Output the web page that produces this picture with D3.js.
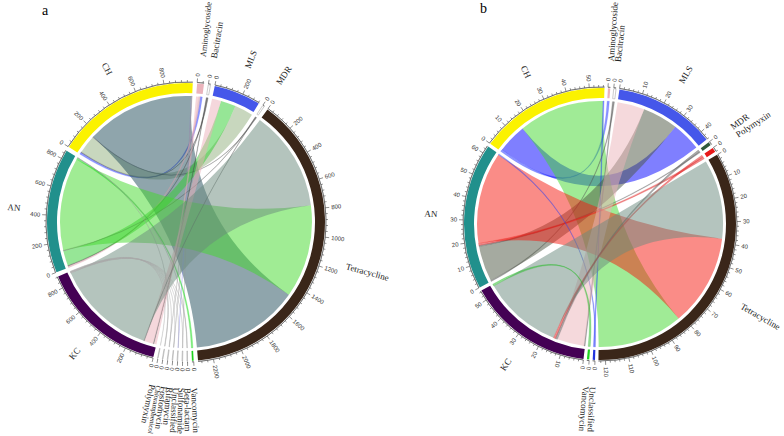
<!DOCTYPE html>
<html><head><meta charset="utf-8">
<script src="https://cdn.jsdelivr.net/npm/d3@7/dist/d3.min.js"></script>
<style>body{margin:0;background:#fff}svg{display:block}</style>
</head><body>
<svg id="chart" width="784" height="436"></svg>
<script>
// ---------- Panel a data ----------
const sectorsA = ["CH","Aminoglycoside","Bacitracin","MLS","MDR","Tetracycline","Vancomycin","Beta-lactam","Sulfonamide","Unclassified","Rifamycin","Fosfomycin","Chloramphenicol","Polymyxin","KC","AN"];
const groupsA = ["KC","AN","CH"];
const linkFromA = ["CH","CH","CH","CH","CH","CH","CH","CH","CH",
                   "AN","AN","AN","AN","AN","AN","AN","AN",
                   "KC","KC","KC","KC","KC","KC","KC","KC","KC","KC","KC","KC"];
const linkToA =   ["Aminoglycoside","Bacitracin","MLS","MDR","Tetracycline","Sulfonamide","Unclassified","Rifamycin","Fosfomycin",
                   "Aminoglycoside","Bacitracin","MLS","MDR","Tetracycline","Vancomycin","Beta-lactam","Chloramphenicol",
                   "Aminoglycoside","Bacitracin","MLS","MDR","Tetracycline","Beta-lactam","Sulfonamide","Unclassified","Rifamycin","Fosfomycin","Chloramphenicol","Polymyxin"];
const linkValueA = [15,5,140,4,825,2,2,2,2,
                    12,5,115,4,710,12,2,2,
                    20,5,70,4,770,2,2,2,2,2,2,3];
const tickStepA = 200;

// ---------- Panel b data ----------
const sectorsB = ["CH","Aminoglycoside","Bacitracin","MLS","MDR","Polymyxin","Tetracycline","Unclassified","Vancomycin","KC","AN"];
const groupsB = ["KC","AN","CH"];
const linkFromB = ["CH","CH","CH","CH",
                   "AN","AN","AN","AN","AN","AN",
                   "KC","KC","KC","KC","KC","KC"];
const linkToB =   ["Aminoglycoside","MLS","Tetracycline","Unclassified",
                   "Bacitracin","MLS","MDR","Polymyxin","Tetracycline","Unclassified",
                   "Bacitracin","MLS","MDR","Polymyxin","Tetracycline","Vancomycin"];
const linkValueB = [1,14,41,0.5,
                    0.5,17,0.5,1,44,0.5,
                    0.5,13,1,1,38,1];
const tickStepB = 10;

// ---------- styles ----------
const trackColorsA = ["#fbf200","#eab3bb","#ffffff","#4557ea","#ffffff","#3a2619","#1fd11f","#ffffff","#ffffff","#ffffff","#ffffff","#ffffff","#ffffff","#ffffff","#440154","#21908c"];
const linkColorsA = ["#2438ff","#444444","#91af7d","#555555","#1f4b59","#999999","#8888ee","#999999","#999999",
                     "#d9a0a8","#444444","#2dcd2d","#555555","#41d929","#11dd11","#999999","#999999",
                     "#ebafb9","#444444","#ebafb9","#555555","#69897b","#aaaaaa","#aaaaaa","#aaaaaa","#aaaaaa","#aaaaaa","#aaaaaa","#aaaaaa"];
const trackColorsB = ["#fbf200","#eab3bb","#ffffff","#4557ea","#2f5a3c","#e81818","#3a2619","#2233dd","#1fd11f","#440154","#21908c"];
const linkColorsB = ["#2030ff","#0000ff","#41d72d","#2030ff",
                     "#555555","#4b5541","#555555","#e01818","#f5190f","#3344ee",
                     "#555555","#ebb4b9","#555555","#e01818","#69897d","#22bb22"];

const W = 784, H = 436;
const svg = d3.select("#chart");
const rad = d => d * Math.PI / 180;
const FLIP = 200;

function panel(cfg) {
  const {sectors, from, to, value, groups, gap, start, cx, cy, R, step, trackColors, linkColors, nameR} = cfg;
  const g = svg.append("g").attr("transform", `translate(${cx},${cy})`);
  const tot = new Map(sectors.map(s => [s, 0]));
  from.forEach((f, i) => { tot.set(f, tot.get(f) + value[i]); tot.set(to[i], tot.get(to[i]) + value[i]); });
  const sum = d3.sum(sectors, s => tot.get(s));
  const k = (360 - gap * sectors.length) / sum;
  let a = start;
  const sec = new Map();
  sectors.forEach((s, i) => {
    const v = tot.get(s);
    const o = {name: s, i, value: v, start: a, end: a + v * k};
    o.scale = d3.scaleLinear().domain([0, v]).range([o.start, o.end]);
    sec.set(s, o);
    a = o.end + gap;
  });
  const links = from.map((f, i) => ({i, f, t: to[i], v: value[i]}));
  sectors.forEach(s => {
    const isGroup = groups.includes(s);
    const L = isGroup
      ? links.filter(l => l.f === s).sort((x, y) => sectors.indexOf(x.t) - sectors.indexOf(y.t))
      : links.filter(l => l.t === s).sort((x, y) => groups.indexOf(x.f) - groups.indexOf(y.f));
    let c = 0; const o = sec.get(s);
    L.forEach(l => {
      const a0 = o.scale(c), a1 = o.scale(c + l.v); c += l.v;
      if (isGroup) l.sa = [a0, a1]; else l.ta = [a0, a1];
    });
  });
  const rChord = R - 13;
  const ribbon = d3.ribbon().radius(rChord);
  g.append("g").selectAll("path").data(links).join("path")
    .attr("d", l => ribbon({source: {startAngle: rad(l.sa[0]), endAngle: rad(l.sa[1])},
                            target: {startAngle: rad(l.ta[0]), endAngle: rad(l.ta[1])}}))
    .attr("fill", l => linkColors[l.i]).attr("fill-opacity", 0.5)
    .attr("stroke", l => l.v * k < 1 ? linkColors[l.i] : "none")
    .attr("stroke-opacity", 0.4).attr("stroke-width", 0.5);

  const arc = d3.arc().innerRadius(R - 10).outerRadius(R);
  const secs = Array.from(sec.values());
  g.append("g").selectAll("path").data(secs).join("path")
    .attr("d", o => arc({startAngle: rad(o.start), endAngle: rad(o.end)}))
    .attr("fill", o => trackColors[o.i])
    .attr("stroke", o => trackColors[o.i] === "#ffffff" ? "#999" : "none")
    .attr("stroke-width", 0.5);

  const ax = g.append("g");
  const pt = (r, d) => [r * Math.sin(rad(d)), -r * Math.cos(rad(d))];
  secs.forEach(o => {
    const line = d3.arc().innerRadius(R + 1).outerRadius(R + 1);
    ax.append("path").attr("d", line({startAngle: rad(o.start), endAngle: rad(o.end)}))
      .attr("stroke", "#444").attr("stroke-width", 0.5).attr("fill", "none");
    const minor = step / 5;
    const ticks = d3.range(0, o.value + 1e-9, minor);
    ticks.forEach(t => {
      const major = Math.abs(t / step - Math.round(t / step)) < 1e-6;
      const d = ((o.scale(t) % 360) + 360) % 360;
      const p0 = pt(R + 1, d), p1 = pt(R + (major ? 5 : 3), d);
      ax.append("line").attr("x1", p0[0]).attr("y1", p0[1]).attr("x2", p1[0]).attr("y2", p1[1])
        .attr("stroke", "#444").attr("stroke-width", 0.6);
      if (major) {
        const p = pt(R + 7, d);
        const flip = d > FLIP;
        ax.append("text").attr("transform", `translate(${p[0]},${p[1]}) rotate(${flip ? d + 90 : d - 90})`)
          .attr("text-anchor", flip ? "end" : "start").attr("dominant-baseline", "central")
          .attr("font-family", "Liberation Sans, Arial, sans-serif").attr("font-size", 6).attr("fill", "#333")
          .text(d3.format("d")(t));
      }
    });
    const m = ((((o.start + o.end) / 2) % 360) + 360) % 360;
    const p = pt(nameR, m);
    const flip = m > FLIP;
    const fs = 9;
    const txt = g.append("text").attr("transform", `translate(${p[0]},${p[1]}) rotate(${flip ? m + 90 : m - 90})`)
      .attr("text-anchor", flip ? "end" : "start").attr("dominant-baseline", "central")
      .attr("font-family", "Liberation Serif, Times New Roman, serif").attr("font-size", fs).attr("fill", "#222")
      .text(o.name);
    // shrink the label if it would run past the picture's edge
    const len = txt.node().getComputedTextLength();
    const ux = Math.sin(rad(m)), uy = -Math.cos(rad(m));
    let tmax = Infinity;
    if (ux > 1e-6) tmax = Math.min(tmax, (W - 2 - cx) / ux);
    if (ux < -1e-6) tmax = Math.min(tmax, (2 - cx) / ux);
    if (uy > 1e-6) tmax = Math.min(tmax, (H - 2 - cy) / uy);
    if (uy < -1e-6) tmax = Math.min(tmax, (2 - cy) / uy);
    if (nameR + len > tmax) txt.attr("font-size", fs * Math.max(0.6, (tmax - nameR) / len));
  });
}

panel({sectors: sectorsA, from: linkFromA, to: linkToA, value: linkValueA, groups: groupsA,
       gap: 1.8, start: 302.6, cx: 186, cy: 222, R: 139, step: tickStepA,
       trackColors: trackColorsA, linkColors: linkColorsA, nameR: 166});
panel({sectors: sectorsB, from: linkFromB, to: linkToB, value: linkValueB, groups: groupsB,
       gap: 1.45, start: 306.2, cx: 600, cy: 224, R: 136, step: tickStepB,
       trackColors: trackColorsB, linkColors: linkColorsB, nameR: 163});

svg.append("text").attr("x", 42).attr("y", 15).attr("font-family", "Liberation Serif, serif").attr("font-size", 14).text("a");
svg.append("text").attr("x", 480).attr("y", 13).attr("font-family", "Liberation Serif, serif").attr("font-size", 14).text("b");
</script>
</body></html>
